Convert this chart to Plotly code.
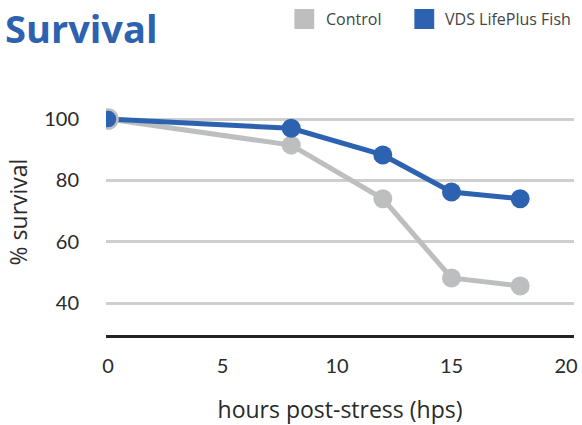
import plotly.graph_objects as go

# Survival data (percent surviving) at hours post-stress
hours = [0, 8, 12, 15, 18]
control = [100, 91.5, 74, 48.2, 45.6]
lifeplus = [100, 97, 88.3, 76.2, 74]

series_names = ["Control", "VDS LifePlus Fish"]
x_ticks = [0, 5, 10, 15, 20]
y_ticks = [40, 60, 80, 100]

GRAY = "#BDBEC0"
BLUE = "#2D62B0"
TEXT = "#2a2a2a"

W, H = 582, 425
ML, MR, MT, MB = 106, 4, 89, 90

fig = go.Figure()
fig.add_trace(go.Scatter(
    x=hours, y=control, mode="lines+markers", name=series_names[0],
    line=dict(color=GRAY, width=5),
    marker=dict(color=GRAY, size=19),
    showlegend=False,
))
fig.add_trace(go.Scatter(
    x=hours, y=lifeplus, mode="lines+markers", name=series_names[1],
    line=dict(color=BLUE, width=5),
    marker=dict(color=BLUE, size=19,
                line=dict(color=GRAY, width=[2.5, 0, 0, 0, 0])),
    showlegend=False,
))

# Pixel -> paper coordinate helpers for the header elements
def px_x(p):
    return (p - ML) / (W - ML - MR)

def px_y(p):
    return (H - MB - p) / (H - MT - MB)

# Title
fig.add_annotation(text="<b>Survival</b>", xref="paper", yref="paper",
                   x=px_x(2), y=px_y(0), xanchor="left", yanchor="top",
                   showarrow=False,
                   font=dict(family="Open Sans", size=38, color=BLUE))

# Legend: square swatches with labels
legend_items = [(296, 326, GRAY, series_names[0]), (417, 446, BLUE, series_names[1])]
for sx, tx, col, label in legend_items:
    fig.add_shape(type="rect", xref="paper", yref="paper",
                  x0=px_x(sx), x1=px_x(sx + 20), y0=px_y(29), y1=px_y(9),
                  fillcolor=col, line=dict(width=0))
    fig.add_annotation(text=label, xref="paper", yref="paper",
                       x=px_x(tx), y=px_y(19), xanchor="left", yanchor="middle",
                       showarrow=False,
                       font=dict(family="Open Sans", size=16, color="#444444"))

fig.update_layout(
    width=W, height=H,
    margin=dict(l=ML, r=MR, t=MT, b=MB),
    paper_bgcolor="white", plot_bgcolor="white",
    xaxis=dict(
        range=[-0.09, 20.35], tickvals=x_ticks, showgrid=False, zeroline=False,
        showline=True, linecolor="#222222", linewidth=2.5,
        ticks="outside", ticklen=11, tickcolor="rgba(0,0,0,0)",
        tickfont=dict(family="Lato", size=20, color=TEXT),
        title=dict(text="hours post-stress (hps)", standoff=27,
                   font=dict(family="Open Sans", size=23, color=TEXT)),
    ),
    yaxis=dict(
        range=[29.6, 109.8], tickvals=y_ticks, showgrid=True,
        gridcolor="#CFCFCF", gridwidth=2.5, zeroline=False, showline=False,
        ticks="outside", ticklen=22, tickcolor="rgba(0,0,0,0)",
        tickfont=dict(family="Lato", size=20, color=TEXT),
        title=dict(text="% survival", standoff=10,
                   font=dict(family="Open Sans", size=23, color=TEXT)),
    ),
)

fig.write_html("out.html")
